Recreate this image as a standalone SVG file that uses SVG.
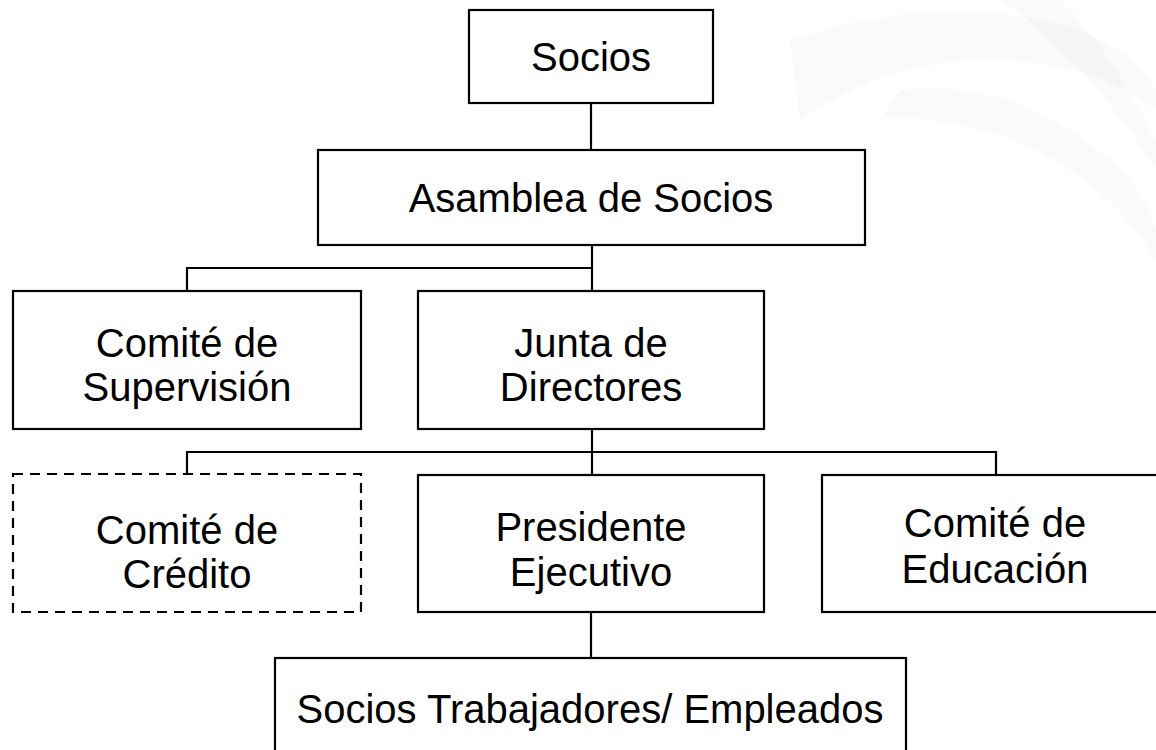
<svg xmlns="http://www.w3.org/2000/svg" width="1156" height="750" viewBox="0 0 1156 750">
<style>
.box{fill:#fff;stroke:#000;stroke-width:2.2}
.dash{fill:#fff;stroke:#000;stroke-width:2.2;stroke-dasharray:10 7}
.lbl{font-family:"Liberation Sans",Arial,sans-serif;font-size:40px;fill:#000;text-anchor:middle}
.conn{stroke:#000;stroke-width:2.2;fill:none}
.wm{fill:#000;opacity:0.018}
</style>
<rect width="1156" height="750" fill="#fff"/>
<g id="watermark">
<path class="wm" d="M790 40 C880 10 980 0 1080 30 C1120 45 1145 70 1156 90 L1156 110 C1120 80 1060 60 990 60 C920 60 860 80 800 120 Z"/>
<path class="wm" d="M900 90 C980 80 1060 110 1120 170 C1140 190 1150 210 1156 230 L1156 260 C1120 200 1060 150 980 130 C940 120 910 115 880 118 Z"/>
<path class="wm" d="M1000 0 L1060 0 C1090 30 1120 70 1156 140 L1156 170 C1110 100 1060 40 1000 0 Z"/>
</g>
<g id="connectors">
<line class="conn" x1="591" y1="103" x2="591" y2="150"/>
<line class="conn" x1="592" y1="245" x2="592" y2="291"/>
<polyline class="conn" points="187,291 187,268 592,268"/>
<line class="conn" x1="592" y1="429" x2="592" y2="475"/>
<polyline class="conn" points="187,474 187,452 996,452 996,475"/>
<line class="conn" x1="591" y1="612" x2="591" y2="658"/>
</g>
<g id="socios">
<rect class="box" x="469" y="10" width="244" height="93"/>
<text class="lbl" x="591" y="71">Socios</text>
</g>
<g id="asamblea">
<rect class="box" x="318" y="150" width="547" height="95"/>
<text class="lbl" x="591" y="212">Asamblea de Socios</text>
</g>
<g id="supervision">
<rect class="box" x="13" y="291" width="348" height="138"/>
<text class="lbl" x="187" y="357">Comité de</text>
<text class="lbl" x="187" y="401">Supervisión</text>
</g>
<g id="junta">
<rect class="box" x="418" y="291" width="346" height="138"/>
<text class="lbl" x="591" y="357">Junta de</text>
<text class="lbl" x="591" y="401">Directores</text>
</g>
<g id="credito">
<rect class="dash" x="13" y="474" width="348" height="138"/>
<text class="lbl" x="187" y="544">Comité de</text>
<text class="lbl" x="187" y="588">Crédito</text>
</g>
<g id="presidente">
<rect class="box" x="418" y="475" width="346" height="137"/>
<text class="lbl" x="591" y="541">Presidente</text>
<text class="lbl" x="591" y="586">Ejecutivo</text>
</g>
<g id="educacion">
<rect class="box" x="822" y="475" width="348" height="137"/>
<text class="lbl" x="995" y="537">Comité de</text>
<text class="lbl" x="995" y="583">Educación</text>
</g>
<g id="empleados">
<rect class="box" x="275" y="658" width="631" height="120"/>
<text class="lbl" x="590" y="723">Socios Trabajadores/ Empleados</text>
</g>
</svg>
